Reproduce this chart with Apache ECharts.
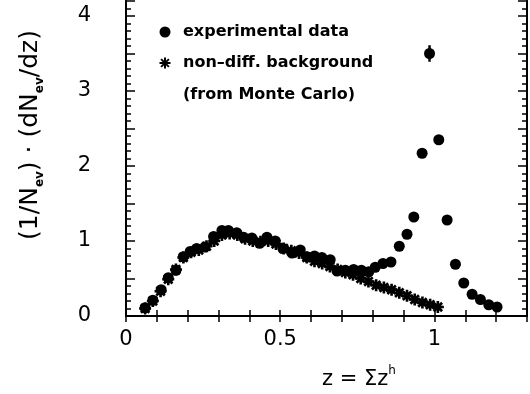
<!DOCTYPE html>
<html>
<head>
<meta charset="utf-8">
<script src="https://cdn.jsdelivr.net/npm/echarts@6/dist/echarts.min.js"></script>
<style>
html,body{margin:0;padding:0;background:#fff;}
#chart{width:530px;height:394px;}
</style>
</head>
<body>
<div id="chart"></div>
<script>
// experimental data (filled circles)
const expZ = [0.062,0.087,0.114,0.137,0.162,0.186,0.208,0.229,0.256,0.284,0.311,0.332,0.359,0.381,0.408,0.433,0.457,0.484,0.509,0.538,0.565,0.587,0.611,0.635,0.662,0.684,0.711,0.738,0.763,0.787,0.808,0.833,0.859,0.886,0.911,0.933,0.960,0.984,1.014,1.041,1.068,1.095,1.122,1.149,1.176,1.203];
const expV = [0.11,0.21,0.35,0.51,0.61,0.79,0.86,0.90,0.92,1.06,1.14,1.14,1.11,1.05,1.04,0.97,1.05,1.00,0.90,0.84,0.88,0.79,0.80,0.78,0.75,0.60,0.61,0.62,0.61,0.59,0.65,0.70,0.72,0.93,1.09,1.32,2.17,3.50,2.35,1.28,0.69,0.44,0.29,0.22,0.15,0.12];
const expErr = [0,0,0,0,0,0,0,0,0,0,0,0,0,0,0,0,0,0,0,0,0,0,0,0,0,0,0,0,0,0,0,0,0,0,0,0,0.05,0.11,0.05,0.02,0,0,0,0,0,0];
// non-diffractive background from Monte Carlo (asterisks)
const mcZ = [0.062,0.087,0.112,0.137,0.162,0.186,0.211,0.236,0.261,0.286,0.311,0.336,0.361,0.386,0.411,0.436,0.461,0.486,0.511,0.536,0.561,0.586,0.611,0.636,0.661,0.686,0.711,0.736,0.761,0.786,0.811,0.836,0.861,0.886,0.911,0.936,0.961,0.986,1.011];
const mcV = [0.10,0.20,0.33,0.49,0.62,0.78,0.85,0.88,0.93,1.00,1.08,1.10,1.08,1.03,1.00,0.99,1.00,0.96,0.90,0.87,0.84,0.78,0.73,0.70,0.66,0.62,0.58,0.55,0.50,0.46,0.41,0.38,0.35,0.31,0.27,0.22,0.18,0.15,0.12];
const xTickLabels = ['0','0.5','1'];
const yTickLabels = ['0','1','2','3','4'];
const legendTexts = ['experimental data','non\u2013diff. background','(from Monte Carlo)'];

const STAR = 'path://M0,0.78L2,0.78L2,1.22L0,1.22Z M1.22,0L1.22,2L0.78,2L0.78,0Z M0.45,0.14L1.86,1.55L1.55,1.86L0.14,0.45Z M1.86,0.45L0.45,1.86L0.14,1.55L1.55,0.14Z';
const FONT = '"DejaVu Sans", "Liberation Sans", sans-serif';

const chart = echarts.init(document.getElementById('chart'), null, {renderer:'canvas'});

function xFmt(v){
  for (const t of xTickLabels){ if (Math.abs(v - parseFloat(t)) < 1e-6) return t; }
  return '';
}
function yFmt(v){
  for (const t of yTickLabels){ if (Math.abs(v - parseFloat(t)) < 1e-6) return t; }
  return '';
}
const axLine = {show:true, lineStyle:{color:'#000', width:2}};
function xAx(pos, labels){
  return {type:'value', position:pos, min:0, max:1.3, interval:0.1,
    axisLine:axLine, splitLine:{show:false},
    axisTick:{show:true, inside:true, length:6, lineStyle:{color:'#000', width:1.5}},
    axisLabel:{show:labels, formatter:xFmt, margin:13, color:'#000', fontFamily:FONT, fontSize:21}};
}
function yAx(pos, interval, len, labels){
  return {type:'value', position:pos, min:0, max:4.2, interval:interval,
    axisLine:axLine, splitLine:{show:false},
    axisTick:{show:true, inside:true, length:len, lineStyle:{color:'#000', width:1.5}},
    axisLabel:{show:labels, formatter:yFmt, margin:35, color:'#000', fontFamily:FONT, fontSize:21}};
}

const expData = expZ.map((z,i)=>[z, expV[i], expErr[i]]);
const mcData = mcZ.map((z,i)=>[z, mcV[i]]);

function starLines(cx, cy, r){
  const out = [];
  for (let k = 0; k < 4; k++){
    const a = k * Math.PI / 4;
    out.push({type:'line', shape:{x1:cx - r*Math.cos(a), y1:cy - r*Math.sin(a), x2:cx + r*Math.cos(a), y2:cy + r*Math.sin(a)},
      style:{stroke:'#000', lineWidth:2}});
  }
  return out;
}

chart.setOption({
  animation:false,
  backgroundColor:'#fff',
  grid:{left:126, top:1, right:3, bottom:78},
  xAxis:[xAx('bottom', true), xAx('top', false)],
  yAxis:[yAx('left',0.1,5,false), yAx('left',0.5,9,true), yAx('right',0.1,5,false), yAx('right',0.5,9,false)],
  series:[
    {type:'custom', xAxisIndex:0, yAxisIndex:0, data:expData.filter(d=>d[2]>0),
      renderItem:function(params, api){
        const z = api.value(0), v = api.value(1), e = api.value(2);
        const p1 = api.coord([z, v - e]), p2 = api.coord([z, v + e]);
        return {type:'line', shape:{x1:p1[0], y1:p1[1], x2:p2[0], y2:p2[1]}, style:{stroke:'#000', lineWidth:2.5}};
      }, z:3},
    {type:'scatter', name:'experimental data', data:expData, symbol:'circle', symbolSize:11,
      itemStyle:{color:'#000', opacity:1}, z:2},
    {type:'scatter', name:'background', data:mcData, symbol:STAR, symbolSize:12,
      itemStyle:{color:'#000', opacity:1}, z:4}
  ],
  graphic:[
    {type:'circle', shape:{cx:165, cy:32, r:5.5}, style:{fill:'#000'}},
    {type:'group', children: starLines(165, 63, 5.5)},
    {type:'text', x:183, y:32, style:{text:legendTexts[0], font:'bold 16px '+FONT, fill:'#000', verticalAlign:'middle'}},
    {type:'text', x:183, y:63, style:{text:legendTexts[1], font:'bold 16px '+FONT, fill:'#000', verticalAlign:'middle'}},
    {type:'text', x:183, y:95, style:{text:legendTexts[2], font:'bold 16px '+FONT, fill:'#000', verticalAlign:'middle'}},
    {type:'text', x:359, y:380, style:{text:'{a|z = \u03A3z}{s|h}', align:'center', verticalAlign:'middle',
      rich:{a:{fontFamily:FONT, fontSize:21, lineHeight:30, fill:'#000'}, s:{fontFamily:FONT, fontSize:12, lineHeight:14, verticalAlign:'top', fill:'#000'}}}},
    {type:'text', x:30, y:135, rotation:Math.PI/2, style:{text:'{b|(1/N}{s|ev}{b|) \u00B7 (dN}{s|ev}{b|/dz)}', align:'center', verticalAlign:'middle',
      rich:{b:{fontFamily:FONT, fontSize:25, lineHeight:32, fill:'#000'}, s:{fontFamily:FONT, fontSize:12, fontWeight:'bold', lineHeight:14, verticalAlign:'bottom', fill:'#000'}}}}
  ]
});
</script>
</body>
</html>
